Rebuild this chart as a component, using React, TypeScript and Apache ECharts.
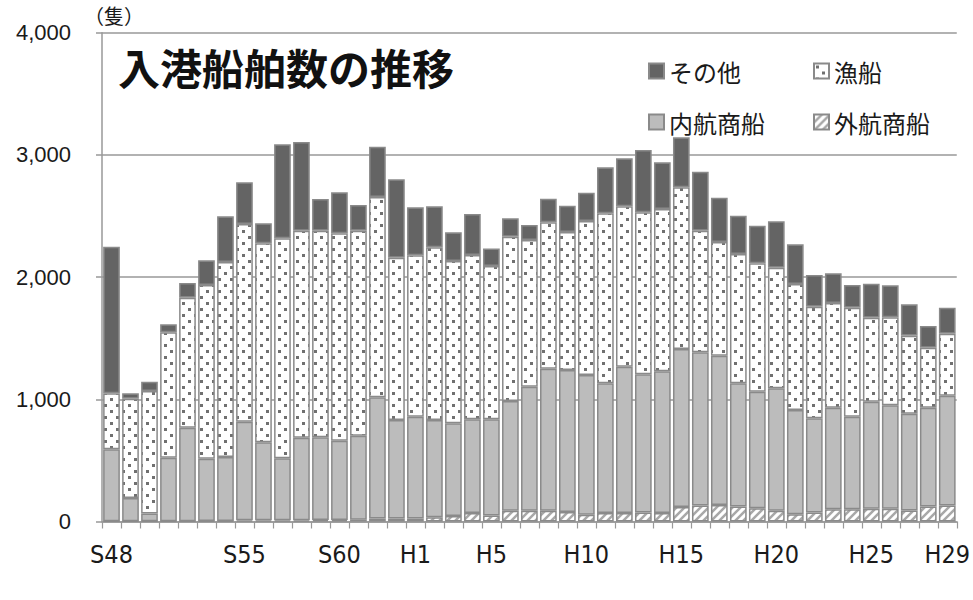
import React, { useEffect, useRef } from "react";
import * as echarts from "echarts";

const categories = [
  "S48", "S49", "S50", "S51", "S52", "S53", "S54", "S55", "S56", "S57", "S58", "S59", "S60", "S61", "S62", "S63",
  "H1", "H2", "H3", "H4", "H5", "H6", "H7", "H8", "H9", "H10", "H11", "H12", "H13", "H14", "H15",
  "H16", "H17", "H18", "H19", "H20", "H21", "H22", "H23", "H24", "H25", "H26", "H27", "H28", "H29",
];
const shownLabels = ["S48", "S55", "S60", "H1", "H5", "H10", "H15", "H20", "H25", "H29"];

// 外航商船 (bottom)
const foreignShips = [
  3, 3, 3, 3, 3, 5, 5, 10, 10, 10, 10, 12, 12, 15, 25, 25,
  25, 35, 45, 70, 50, 88, 88, 88, 78, 55, 70, 70, 74, 70, 118,
  131, 136, 123, 109, 87, 60, 74, 101, 101, 104, 104, 90, 123, 131,
];
// 内航商船
const domesticShips = [
  588, 189, 62, 519, 765, 509, 523, 807, 638, 507, 676, 677, 649, 687, 991, 806,
  833, 796, 758, 766, 786, 898, 1015, 1163, 1162, 1144, 1061, 1197, 1131, 1159, 1294,
  1254, 1221, 1008, 953, 1003, 852, 770, 830, 757, 876, 847, 792, 808, 899,
];
// 漁船
const fishingBoats = [
  458, 813, 1003, 1026, 1064, 1421, 1596, 1617, 1628, 1800, 1694, 1691, 1697, 1678, 1639, 1328,
  1320, 1413, 1329, 1345, 1255, 1345, 1201, 1197, 1129, 1260, 1391, 1312, 1325, 1328, 1323,
  995, 930, 1058, 1051, 987, 1032, 914, 857, 892, 688, 720, 639, 491, 507,
];
// その他
const others = [
  1200, 44, 76, 66, 120, 202, 373, 342, 164, 770, 725, 259, 336, 210, 412, 641,
  393, 335, 234, 335, 144, 150, 122, 194, 215, 232, 376, 393, 510, 382, 409,
  483, 363, 314, 308, 380, 324, 259, 243, 185, 278, 262, 256, 178, 213,
];

const yTicks = [0, 1000, 2000, 3000, 4000];

function makeDots(): HTMLCanvasElement {
  const c = document.createElement("canvas");
  c.width = 12;
  c.height = 12;
  const ctx = c.getContext("2d")!;
  ctx.fillStyle = "#ffffff";
  ctx.fillRect(0, 0, 12, 12);
  ctx.fillStyle = "#707070";
  ctx.fillRect(2, 2, 3, 3);
  ctx.fillRect(8, 8, 3, 3);
  return c;
}

function makeHatch(): HTMLCanvasElement {
  const c = document.createElement("canvas");
  c.width = 8;
  c.height = 8;
  const ctx = c.getContext("2d")!;
  ctx.fillStyle = "#ffffff";
  ctx.fillRect(0, 0, 8, 8);
  ctx.strokeStyle = "#a8a8a8";
  ctx.lineWidth = 2.5;
  ctx.beginPath();
  ctx.moveTo(-4, 4);
  ctx.lineTo(4, -4);
  ctx.moveTo(0, 8);
  ctx.lineTo(8, 0);
  ctx.moveTo(4, 12);
  ctx.lineTo(12, 4);
  ctx.stroke();
  return c;
}

const CJK = '"Noto Sans CJK JP", "Noto Sans", sans-serif';

export default function App() {
  const ref = useRef<HTMLDivElement>(null);

  useEffect(() => {
    if (!ref.current) return;
    const chart = echarts.init(ref.current, null, { renderer: "svg" });
    const dots = { image: makeDots(), repeat: "repeat" };
    const hatch = { image: makeHatch(), repeat: "repeat" };
    const border = { borderColor: "#8a8a8a", borderWidth: 1.5 };

    const mkSeries = (name: string, data: number[], color: any) => ({
      name,
      type: "bar",
      stack: "total",
      data,
      barCategoryGap: "12%",
      itemStyle: { color, ...border },
      emphasis: { disabled: true },
    });

    const legendText = { fontSize: 24, color: "#1a1a1a", fontFamily: CJK };
    const legendBase = {
      orient: "horizontal",
      itemWidth: 15,
      itemHeight: 15,
      itemGap: 0,
      padding: 0,
      selectedMode: false,
      textStyle: legendText,
      icon: "rect",
    };

    chart.setOption({
      animation: false,
      backgroundColor: "#ffffff",
      grid: { left: 102, right: 13, top: 32.7, bottom: 78.5, containLabel: false },
      xAxis: {
        type: "category",
        data: categories,
        axisLine: { lineStyle: { color: "#999999", width: 1.5 } },
        axisTick: { show: true, interval: 0, length: 7, lineStyle: { color: "#999999", width: 1.2 } },
        axisLabel: {
          interval: 0,
          margin: 20,
          fontSize: 25,
          color: "#1a1a1a",
          fontFamily: '"Liberation Sans Narrow", "DejaVu Sans Condensed", "Liberation Sans", sans-serif',
          formatter: (v: string) => (shownLabels.includes(v) ? v : ""),
        },
      },
      yAxis: {
        type: "value",
        min: yTicks[0],
        max: yTicks[yTicks.length - 1],
        interval: 1000,
        axisLine: { show: true, lineStyle: { color: "#999999", width: 1.5 } },
        axisTick: { show: true, length: 6, lineStyle: { color: "#999999", width: 1.5 } },
        splitLine: { show: true, lineStyle: { color: "#999999", width: 1.5 } },
        axisLabel: {
          margin: 31,
          fontSize: 22,
          color: "#1a1a1a",
          fontFamily: '"Liberation Sans", sans-serif',
          formatter: (v: number) => v.toLocaleString("en-US"),
        },
      },
      legend: [
        { ...legendBase, data: ["その他"], left: 648, top: 59 },
        { ...legendBase, data: ["漁船"], left: 813, top: 59 },
        { ...legendBase, data: ["内航商船"], left: 648, top: 110 },
        { ...legendBase, data: ["外航商船"], left: 813, top: 110 },
      ],
      graphic: [
        {
          type: "text",
          left: 118,
          top: 45,
          style: {
            text: "入港船舶数の推移",
            fontSize: 42,
            fontWeight: "bold",
            fontFamily: CJK,
            fill: "#111111",
          },
          z: 100,
        },
        {
          type: "text",
          left: 84,
          top: 5,
          style: {
            text: "（隻）",
            fontSize: 20,
            fontFamily: CJK,
            fill: "#1a1a1a",
          },
          z: 100,
        },
      ],
      series: [
        mkSeries("外航商船", foreignShips, hatch),
        mkSeries("内航商船", domesticShips, "#bcbcbc"),
        mkSeries("漁船", fishingBoats, dots),
        mkSeries("その他", others, "#646464"),
      ],
    });

    return () => chart.dispose();
  }, []);

  return (
    <div
      ref={ref}
      style={{ position: "fixed", left: 0, top: 0, width: 973, height: 600, background: "#fff" }}
    />
  );
}
